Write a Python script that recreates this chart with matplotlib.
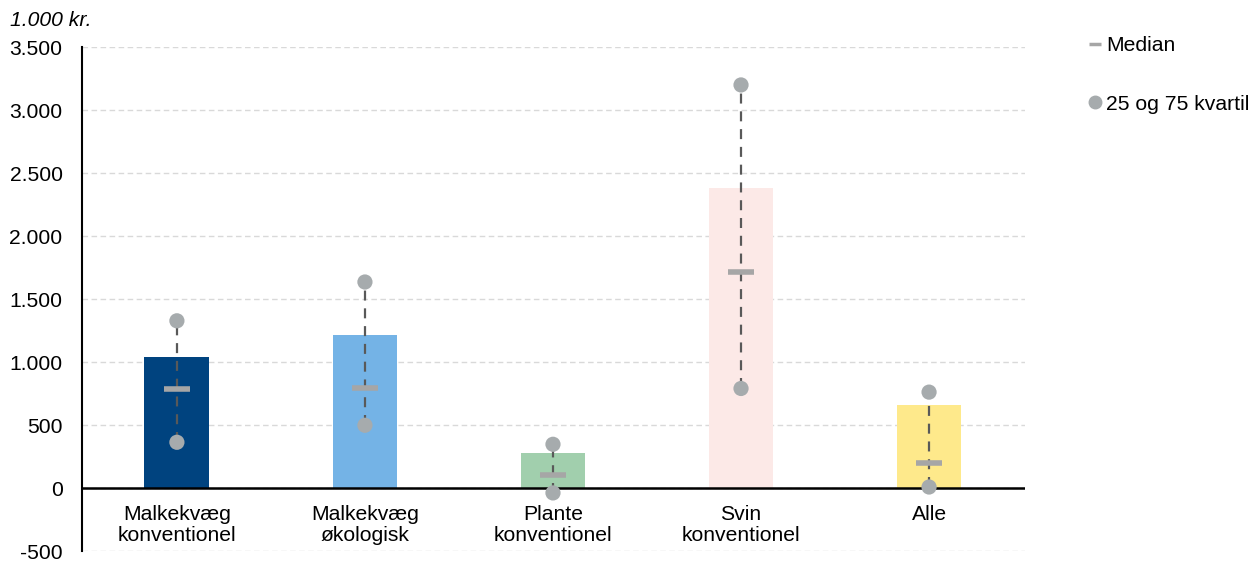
import matplotlib
matplotlib.use("Agg")
import matplotlib.pyplot as plt
from matplotlib.lines import Line2D
from matplotlib.ticker import FuncFormatter

plt.rcParams["font.family"] = ["Liberation Sans", "DejaVu Sans"]

# ── Data (1.000 kr.) ─────────────────────────────────────────────────────────
categories = ["Malkekvæg\nkonventionel", "Malkekvæg\nøkologisk", "Plante\nkonventionel",
              "Svin\nkonventionel", "Alle"]
means   = [1040, 1215, 275, 2385, 655]
medians = [782, 790, 103, 1716, 197]
q25     = [363, 498, -39, 790, 8]
q75     = [1327, 1635, 347, 3199, 761]
bar_colors = ["#00437F", "#74B3E6", "#A1CFAD", "#FCE9E7", "#FEE98B"]
yticks = list(range(-500, 3501, 500))

GREY = "#A6ABAD"
FS = 15.2

fig = plt.figure(figsize=(12.53, 5.61), dpi=100)
ax = fig.add_axes([0.0654, 0.0178, 0.7526, 0.8984])

x = list(range(len(categories)))
ax.bar(x, means, width=0.345, color=bar_colors, zorder=2)

# dashed quartile range
for xi, lo, hi in zip(x, q25, q75):
    ax.plot([xi, xi], [lo, hi], color="#595959", lw=1.6, ls=(0, (4.5, 3.5)), zorder=3)

# median markers
ax.hlines(medians, [xi - 0.07 for xi in x], [xi + 0.07 for xi in x],
          color="#A6A6A6", lw=4, zorder=4)

# quartile dots
ax.scatter(x + x, q25 + q75, s=120, color=GREY, zorder=5, edgecolors="none")

ax.set_xlim(-0.505, 4.51)
ax.set_ylim(-500, 3500)
ax.set_yticks(yticks)
ax.yaxis.set_major_formatter(FuncFormatter(lambda v, _: f"{int(v):,}".replace(",", ".")))
ax.tick_params(axis="y", length=0, labelsize=FS, pad=14)
ax.set_xticks([])
ax.grid(axis="y", color="#D9D9D9", ls=(0, (4, 2.5)), lw=1, zorder=0)
ax.set_axisbelow(True)
for s in ["top", "right", "bottom"]:
    ax.spines[s].set_visible(False)
ax.spines["left"].set_linewidth(1.5)
ax.axhline(0, color="black", lw=1.8, zorder=3)

for xi, lab in zip(x, categories):
    ax.annotate(lab, (xi, 0), xytext=(0, -12), textcoords="offset points",
                ha="center", va="top", fontsize=FS, linespacing=1.15)

fig.text(0.008, 0.964, "1.000 kr.", fontsize=FS, style="italic", ha="left", va="center")

handles = [
    Line2D([], [], color="#A6A6A6", marker="_", ls="none", markersize=9, markeredgewidth=2.5),
    Line2D([], [], color=GREY, marker="o", ls="none", markersize=9),
]
fig.legend(handles, ["Median", "25 og 75 kvartil"], loc="upper left",
           bbox_to_anchor=(0.862, 0.95), frameon=False, fontsize=FS,
           handlelength=0.6, handletextpad=0.25, labelspacing=1.85, borderaxespad=0)

fig.savefig("out.png", dpi=100)
